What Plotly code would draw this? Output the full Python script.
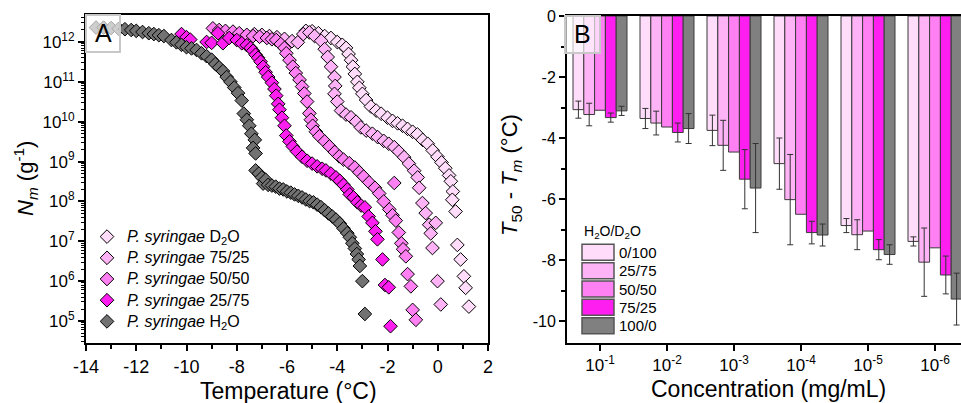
import plotly.graph_objects as go

# ---------------- Panel A data (Temperature in °C, N_m in g^-1) ----------------
h2o_T = [-13.6, -13.3, -13.0, -12.7, -12.45, -12.2, -12.0, -11.75, -11.5, -11.3, -11.1, -10.9,
         -10.6, -10.4, -10.2, -10.0, -9.8, -9.6, -9.4, -9.2, -9.0, -8.85, -8.7, -8.55, -8.4,
         -8.25, -8.1, -7.95, -7.8, -7.72, -7.6, -7.5, -7.42, -7.28, -7.35, -7.25,
         -7.25, -7.12, -7.0, -6.95, -6.85, -6.75, -6.6, -6.45, -6.3, -6.15, -6.0, -5.85, -5.7,
         -5.55, -5.4, -5.25, -5.1, -4.95, -4.8, -4.65, -4.5, -4.35, -4.2, -4.05, -3.9, -3.75,
         -3.6, -3.5, -3.4, -3.3, -3.22, -3.15, -3.1, -3.0, -2.9]
h2o_N = [2.3e12, 2.3e12, 2.24e12, 2.14e12, 2.09e12, 2.0e12, 1.9e12, 1.78e12, 1.66e12, 1.58e12,
         1.48e12, 1.41e12, 1.12e12, 9.8e11, 8.5e11, 7.4e11, 6.9e11, 6.3e11, 5.2e11, 4.4e11,
         3.6e11, 2.8e11, 2.3e11, 1.86e11, 1.32e11, 1.0e11, 7.2e10, 5.2e10, 3.4e10, 1.6e10,
         1.12e10, 7.9e9, 5.0e9, 3.5e9, 2.2e9, 1.6e9,
         6.0e8, 5.0e8, 4.0e8, 2.8e8, 3.5e8, 2.6e8, 2.5e8, 2.35e8, 2.1e8, 2.0e8, 1.78e8, 1.66e8,
         1.5e8, 1.38e8, 1.26e8, 1.12e8, 1.02e8, 9.5e7, 8.3e7, 7.2e7, 6.0e7, 5.0e7, 4.2e7,
         3.5e7, 2.8e7, 2.1e7, 1.6e7, 1.26e7, 8.9e6, 6.6e6, 4.8e6, 3.5e6, 2.4e6, 1.0e6, 1.5e5]

m25_T = [-10.2, -10.0, -9.85, -9.2, -9.0, -8.75, -8.55, -8.3, -8.0, -7.8, -7.6, -7.45, -7.35,
         -7.25, -7.15, -7.05, -6.95, -6.85, -6.75, -6.6, -6.5, -6.43, -6.35, -6.3, -6.2, -6.1,
         -6.03, -5.9, -5.77, -5.6, -5.4, -5.2, -5.0, -4.8, -4.6, -4.45, -4.25, -4.05, -3.9,
         -3.75, -3.6, -3.5, -3.35, -3.2, -3.05, -2.9, -2.75, -2.6, -2.48, -2.4, -2.2, -2.1,
         -1.95, -1.88]
m25_N = [1.58e12, 1.32e12, 1.15e12, 1.0e12, 9.5e11, 1.66e12, 9.3e11, 1.26e12, 1.12e12, 9.3e11,
         8.3e11, 7.1e11, 6.0e11, 4.8e11, 4.0e11, 3.2e11, 2.4e11, 1.74e11, 1.32e11, 9.5e10,
         6.6e10, 4.5e10, 2.8e10, 2.0e10, 1.26e10, 7.9e9, 4.5e9, 3.2e9, 2.4e9, 1.78e9, 1.32e9,
         1.05e9, 8.9e8, 7.6e8, 6.6e8, 6.0e8, 5.0e8, 4.0e8, 3.3e8, 2.6e8, 2.0e8, 1.5e8, 1.26e8,
         9.5e7, 7.9e7, 7.1e7, 4.2e7, 2.9e7, 1.78e7, 1.12e7, 3.5e6, 8.0e5, 7.0e5, 7.4e4]

m50_T = [-8.95, -8.7, -8.45, -8.15, -7.9, -7.6, -7.35, -7.09, -6.8, -6.6, -6.43, -6.25, -6.1,
         -6.03, -5.9, -5.77, -5.65, -5.5, -5.4, -5.31, -5.2, -5.11, -5.05, -4.98, -4.85, -4.71,
         -4.5, -4.31, -4.1, -3.92, -3.75, -3.52, -3.3, -3.12, -2.95, -2.73, -2.5, -2.33, -2.15,
         -1.93, -1.8, -1.67, -1.55, -1.45, -1.38, -1.27, -1.2, -1.07, -1.0, -0.87, -1.73]
m50_N = [2.2e12, 2.0e12, 1.9e12, 1.82e12, 1.66e12, 1.51e12, 1.41e12, 1.35e12, 1.26e12, 1.17e12,
         1.12e12, 8.9e11, 7.1e11, 5.2e11, 3.5e11, 2.4e11, 1.66e11, 1.12e11, 7.6e10, 5.1e10,
         3.2e10, 1.62e10, 1.12e10, 7.9e9, 5.6e9, 4.3e9, 3.2e9, 2.4e9, 1.74e9, 1.35e9, 1.12e9,
         9.1e8, 7.1e8, 5.4e8, 4.2e8, 3.0e8, 2.2e8, 1.58e8, 1.0e8, 6.3e7, 4.5e7, 3.3e7, 1.66e7,
         8.9e6, 6.3e6, 4.2e6, 1.5e6, 7.4e5, 1.9e5, 1.07e5, 2.9e8]

m75_T = [-7.3, -7.0, -6.7, -6.4, -6.1, -5.8, -5.57, -5.35, -5.11, -4.9, -4.64, -4.5, -4.38,
         -4.25, -4.11, -4.08, -4.11, -4.0, -3.85, -3.65, -3.45, -3.25, -3.06, -2.85, -2.6,
         -2.39, -2.15, -1.95, -1.73, -1.55, -1.34, -1.15, -0.94, -0.8, -0.74, -0.61, -0.48,
         -0.34, -0.28, -0.08, -0.21, -0.01, 0.12]
m75_N = [1.58e12, 1.51e12, 1.41e12, 1.32e12, 1.2e12, 1.05e12, 9.8e11, 1.58e12, 1.74e12, 1.41e12,
         1.07e12, 6.6e11, 4.2e11, 2.4e11, 1.32e11, 7.9e10, 5.0e10, 3.2e10, 1.9e10, 1.51e10,
         1.29e10, 1.0e10, 7.2e9, 6.0e9, 5.0e9, 4.1e9, 3.3e9, 2.8e9, 2.3e9, 1.78e9, 1.29e9,
         8.9e8, 5.9e8, 4.0e8, 2.2e8, 9.1e7, 5.1e7, 2.6e7, 1.58e7, 2.9e7, 6.8e6, 1.0e6, 2.6e5]

d2o_T = [-5.25, -5.0, -4.75, -4.5, -4.25, -4.0, -3.8, -3.65, -3.55, -3.45, -3.38, -3.3, -3.2,
         -3.12, -3.0, -2.85, -2.66, -2.45, -2.25, -2.0, -1.8, -1.6, -1.4, -1.2, -1.0, -0.81,
         -0.6, -0.4, -0.2, -0.01, 0.15, 0.3, 0.45, 0.52, 0.6, 0.58, 0.71, 0.78, 0.91, 1.04,
         1.11, 1.24]
d2o_N = [1.9e12, 1.86e12, 1.66e12, 1.41e12, 1.26e12, 1.0e12, 8.5e11, 7.1e11, 5.0e11, 3.5e11,
         2.4e11, 1.58e11, 1.0e11, 7.1e10, 5.0e10, 3.5e10, 2.4e10, 1.9e10, 1.58e10, 1.26e10,
         1.05e10, 9.1e9, 7.9e9, 6.6e9, 5.6e9, 4.8e9, 3.5e9, 2.8e9, 1.9e9, 1.32e9, 9.5e8,
         6.8e8, 4.5e8, 3.2e8, 1.78e8, 1.1e8, 5.6e7, 8.1e6, 3.5e6, 1.32e6, 6.8e5, 2.3e5]

# ---------------- Panel B data (T50 - Tm in °C) ----------------
conc_labels = ["10<sup>-1</sup>", "10<sup>-2</sup>", "10<sup>-3</sup>",
               "10<sup>-4</sup>", "10<sup>-5</sup>", "10<sup>-6</sup>"]
ratios = ["0/100", "25/75", "50/50", "75/25", "100/0"]
dT_0_100 = [-3.07, -3.36, -3.75, -4.84, -6.87, -7.39]
dT_25_75 = [-3.23, -3.51, -4.24, -6.02, -7.17, -8.07]
dT_50_50 = [-3.09, -3.64, -4.46, -6.5, -7.05, -7.6]
dT_75_25 = [-3.33, -3.82, -5.35, -7.1, -7.66, -8.49]
dT_100_0 = [-3.11, -3.69, -5.64, -7.18, -7.82, -9.28]
err_0_100 = [0.28, 0.33, 0.5, 0.84, 0.23, 0.15]
err_25_75 = [0.37, 0.39, 0.82, 1.48, 0.49, 1.12]
err_50_50 = [0, 0, 0, 0, 0, 0]
err_75_25 = [0.15, 0.31, 0.97, 0.37, 0.33, 0.62]
err_100_0 = [0.15, 0.49, 1.46, 0.36, 0.32, 0.85]

# ---------------- styling ----------------
W, H = 961, 403
FONT = "Liberation Sans, Arial, sans-serif"
c_d2o, c_75, c_50, c_25, c_h2o = "#FFDDFA", "#FFB3F7", "#FF80F2", "#FF1EF0", "#727272"
bar_cols = [c_d2o, c_75, c_50, c_25, "#808080"]


def px(x):
    return x / W


def py(y):
    return 1 - y / H


fig = go.Figure()

series_A = [
    ("<i>P. syringae</i> D<sub>2</sub>O", d2o_T, d2o_N, c_d2o),
    ("<i>P. syringae</i> 75/25", m75_T, m75_N, c_75),
    ("<i>P. syringae</i> 50/50", m50_T, m50_N, c_50),
    ("<i>P. syringae</i> 25/75", m25_T, m25_N, c_25),
    ("<i>P. syringae</i> H<sub>2</sub>O", h2o_T, h2o_N, c_h2o),
]
for name, T, N, col in series_A:
    fig.add_trace(go.Scatter(
        x=T, y=N, mode="markers",
        name='<span style="font-size:16px">' + name + "</span>",
        xaxis="x", yaxis="y",
        marker=dict(symbol="diamond", size=10.5, color=col, line=dict(color="black", width=1)),
        showlegend=True,
    ))

vals_B = [dT_0_100, dT_25_75, dT_50_50, dT_75_25, dT_100_0]
errs_B = [err_0_100, err_25_75, err_50_50, err_75_25, err_100_0]
for i, (r, v, e) in enumerate(zip(ratios, vals_B, errs_B)):
    fig.add_trace(go.Bar(
        x=list(range(len(conc_labels))), y=v, name=r, xaxis="x2", yaxis="y2",
        marker=dict(color=bar_cols[i], line=dict(color="#3a3a3a", width=1)),
        error_y=dict(type="data", array=e, color="#333333", thickness=1, width=3,
                     visible=(i != 2)),
        showlegend=False,
    ))

axis_common = dict(showgrid=False, zeroline=False, showline=True, linecolor="black",
                   linewidth=2, ticks="outside", tickcolor="black", tickwidth=1.5,
                   ticklen=6, automargin=False)

yA_ticks = [1e5, 1e6, 1e7, 1e8, 1e9, 1e10, 1e11, 1e12]
yA_minor = [k * 10 ** e for e in range(4, 13) for k in range(2, 10)]
xA_ticks = [-14, -12, -10, -8, -6, -4, -2, 0, 2]
yB_ticks = [-10, -8, -6, -4, -2, 0]

fig.update_layout(
    width=W, height=H, margin=dict(l=0, r=0, t=0, b=0),
    paper_bgcolor="white", plot_bgcolor="white",
    font=dict(family=FONT, color="black"),
    barmode="group", bargap=0.194, bargroupgap=0,
    xaxis=dict(domain=[px(86), px(488)], range=[-14, 2], anchor="y", mirror=True,
               tickvals=xA_ticks, ticktext=[str(v) for v in xA_ticks],
               tickfont=dict(size=18),
               minor=dict(dtick=1, tick0=0, ticks="outside", ticklen=4, tickwidth=1.5,
                          tickcolor="black"),
               **axis_common),
    yaxis=dict(domain=[py(343), py(15)], type="log", range=[4.448, 12.677], anchor="x",
               mirror=True, tickvals=yA_ticks,
               ticktext=["10<sup>%d</sup>" % e for e in range(5, 13)],
               tickfont=dict(size=17),
               minor=dict(tickvals=yA_minor, ticks="outside", ticklen=3, tickwidth=1,
                          tickcolor="black"),
               **axis_common),
    xaxis2=dict(domain=[px(567), 1.0], range=[-0.4925, 5.388], anchor="y2", mirror=True,
                tickvals=list(range(len(conc_labels))), ticktext=conc_labels,
                tickfont=dict(size=17), **axis_common),
    yaxis2=dict(domain=[py(343), py(16)], range=[-10.72, 0], anchor="x2",
                tickvals=yB_ticks, ticktext=[str(v) for v in yB_ticks],
                tickfont=dict(size=16),
                minor=dict(dtick=1, tick0=0, ticks="outside", ticklen=4, tickwidth=1.5,
                           tickcolor="black"),
                **axis_common),
    legend=dict(x=px(87), y=py(221), xanchor="left", yanchor="top",
                bgcolor="rgba(0,0,0,0)", font=dict(size=14, family=FONT),
                tracegroupgap=0, itemsizing="trace"),
)

# panel label boxes
for (x0, x1, y0, y1, lab) in [(86, 120, 15, 52, "A"), (565, 600, 16, 53, "B")]:
    fig.add_shape(type="rect", xref="paper", yref="paper", x0=px(x0), x1=px(x1),
                  y0=py(y1), y1=py(y0), fillcolor="rgba(255,255,255,0.65)",
                  line=dict(color="#c8c8c8", width=2), layer="above")
    fig.add_annotation(x=px((x0 + x1) / 2), y=py((y0 + y1) / 2), xref="paper", yref="paper",
                       text=lab, showarrow=False, font=dict(size=25),
                       xanchor="center", yanchor="middle")

# axis titles
fig.add_annotation(x=px(288), y=py(391), xref="paper", yref="paper", showarrow=False,
                   text="Temperature (°C)", font=dict(size=23),
                   xanchor="center", yanchor="middle")
fig.add_annotation(x=px(25), y=py(179), xref="paper", yref="paper", showarrow=False,
                   text="<i>N</i><sub><i>m</i></sub> (g<sup>-1</sup>)", font=dict(size=22),
                   textangle=-90, xanchor="center", yanchor="middle")
fig.add_annotation(x=px(768), y=py(389), xref="paper", yref="paper", showarrow=False,
                   text="Concentration (mg/mL)", font=dict(size=23),
                   xanchor="center", yanchor="middle")
fig.add_annotation(x=px(511), y=py(175), xref="paper", yref="paper", showarrow=False,
                   text="<i>T</i><sub>50</sub> - <i>T</i><sub><i>m</i></sub> (°C)",
                   font=dict(size=22), textangle=-90, xanchor="center", yanchor="middle")

# panel B legend (manual patches)
fig.add_annotation(x=px(582), y=py(232), xref="paper", yref="paper", showarrow=False,
                   text="H<sub>2</sub>O/D<sub>2</sub>O", font=dict(size=14),
                   xanchor="left", yanchor="middle")
for i, r in enumerate(ratios):
    top = 244.3 + i * 18.35
    fig.add_shape(type="rect", xref="paper", yref="paper", x0=px(582), x1=px(614),
                  y0=py(top + 16), y1=py(top), fillcolor=bar_cols[i],
                  line=dict(color="#555555", width=1.5), layer="above")
    fig.add_annotation(x=px(617), y=py(top + 8), xref="paper", yref="paper",
                       showarrow=False, text=r, font=dict(size=15),
                       xanchor="left", yanchor="middle")

fig.write_html("out.html", config={"displayModeBar": False},
               post_script="document.body.style.margin='0';document.body.style.overflow='hidden';")
